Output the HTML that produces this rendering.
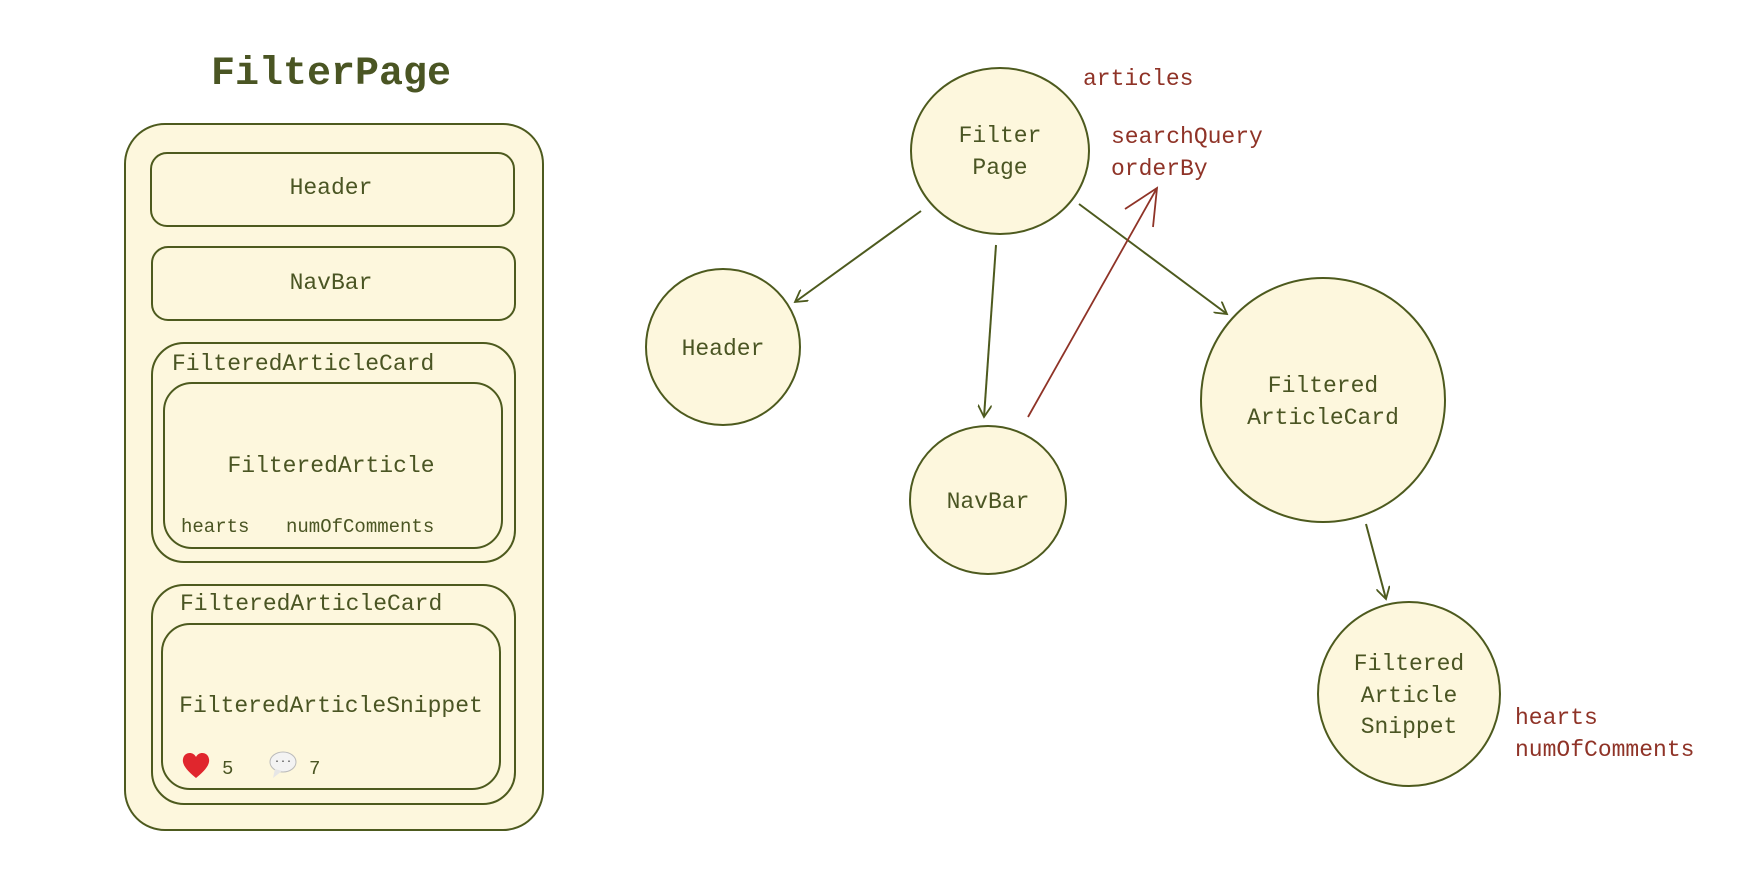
<!DOCTYPE html>
<html><head><meta charset="utf-8"><style>
html,body{margin:0;padding:0;background:#fff;}
svg{display:block;}
text{font-family:"Liberation Mono",monospace;fill:#4a5523;}
.r{fill:#8f3327;}
</style></head><body>
<svg width="1760" height="880" viewBox="0 0 1760 880" xmlns="http://www.w3.org/2000/svg">
<defs>
<marker id="ag" markerWidth="14" markerHeight="14" refX="12" refY="7" orient="auto" markerUnits="userSpaceOnUse"><path d="M0,0 L12,7 L0,14" fill="none" stroke="#4d5a1e" stroke-width="1.8"/></marker>
</defs>
<g fill="#fdf7dd" stroke="#4d5a1e" stroke-width="2">
<text x="331" y="84" text-anchor="middle" font-size="40" font-weight="bold" stroke="none">FilterPage</text>
<rect x="125" y="124" width="418" height="706" rx="40"/>
<rect x="151" y="153" width="363" height="73" rx="16"/>
<rect x="152" y="247" width="363" height="73" rx="16"/>
<rect x="152" y="343" width="363" height="219" rx="32"/>
<rect x="164" y="383" width="338" height="165" rx="28"/>
<rect x="152" y="585" width="363" height="219" rx="32"/>
<rect x="162" y="624" width="338" height="165" rx="28"/>
</g>
<text x="331" y="194" text-anchor="middle" font-size="23">Header</text>
<text x="331" y="289" text-anchor="middle" font-size="23">NavBar</text>
<text x="172" y="370" font-size="23">FilteredArticleCard</text>
<text x="331" y="472" text-anchor="middle" font-size="23">FilteredArticle</text>
<text x="181" y="532" font-size="19">hearts</text>
<text x="286" y="532" font-size="19">numOfComments</text>
<text x="180" y="610" font-size="23">FilteredArticleCard</text>
<text x="331" y="712" text-anchor="middle" font-size="23">FilteredArticleSnippet</text>
<path d="M196,778 C186,770 182,764 183,759 C184,752 193,751 196,757 C199,751 208,752 209,759 C210,764 206,770 196,778 Z" fill="#e0262d"/>
<text x="222" y="774" font-size="19">5</text>
<ellipse cx="283" cy="762" rx="13" ry="10" fill="#f3f3f3" stroke="#bbb"/>
<path d="M275,769 L273,778 L282,771 Z" fill="#e6e6e6"/>
<text x="283" y="764" text-anchor="middle" font-size="10" fill="#333" style="fill:#333">···</text>
<text x="309" y="774" font-size="19">7</text>

<g fill="#fdf7dd" stroke="#4d5a1e" stroke-width="2">
<ellipse cx="1000" cy="151" rx="89" ry="83"/>
<ellipse cx="723" cy="347" rx="77" ry="78"/>
<ellipse cx="988" cy="500" rx="78" ry="74"/>
<ellipse cx="1323" cy="400" rx="122" ry="122"/>
<ellipse cx="1409" cy="694" rx="91" ry="92"/>
</g>
<g stroke="#4d5a1e" stroke-width="2" fill="none" marker-end="url(#ag)">
<line x1="921" y1="211" x2="795" y2="302"/>
<line x1="996" y1="245" x2="984" y2="417"/>
<line x1="1079" y1="204" x2="1227" y2="314"/>
<line x1="1366" y1="524" x2="1386" y2="599"/>
</g>
<line x1="1028" y1="417" x2="1157" y2="188" stroke="#8f3327" stroke-width="1.8"/>
<path d="M1125,209 L1157,188 L1153,227" fill="none" stroke="#8f3327" stroke-width="1.8"/>
<text x="1000" y="142" text-anchor="middle" font-size="23">Filter</text>
<text x="1000" y="174" text-anchor="middle" font-size="23">Page</text>
<text x="723" y="355" text-anchor="middle" font-size="23">Header</text>
<text x="988" y="508" text-anchor="middle" font-size="23">NavBar</text>
<text x="1323" y="392" text-anchor="middle" font-size="23">Filtered</text>
<text x="1323" y="424" text-anchor="middle" font-size="23">ArticleCard</text>
<text x="1409" y="670" text-anchor="middle" font-size="23">Filtered</text>
<text x="1409" y="702" text-anchor="middle" font-size="23">Article</text>
<text x="1409" y="733" text-anchor="middle" font-size="23">Snippet</text>
<text class="r" x="1083" y="85" font-size="23">articles</text>
<text class="r" x="1111" y="143" font-size="23">searchQuery</text>
<text class="r" x="1111" y="175" font-size="23">orderBy</text>
<text class="r" x="1515" y="724" font-size="23">hearts</text>
<text class="r" x="1515" y="756" font-size="23">numOfComments</text>
</svg>
</body></html>
